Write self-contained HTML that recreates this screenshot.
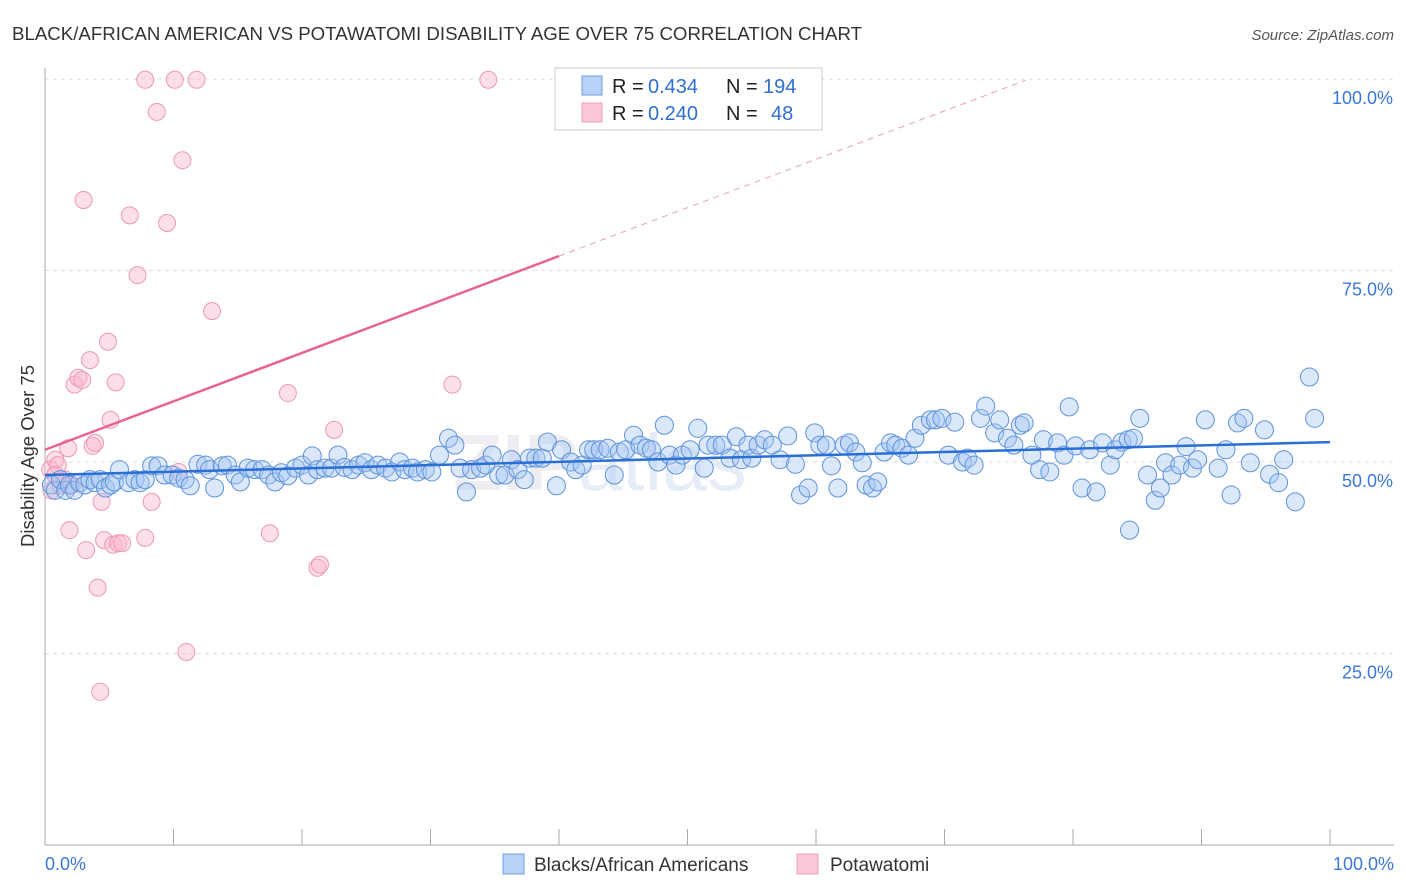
<!DOCTYPE html>
<html><head><meta charset="utf-8"><style>
body{margin:0;background:#fff;font-family:"Liberation Sans",sans-serif;}
svg{display:block}
</style></head><body>
<svg id="chart" width="1406" height="892">
<text x="12" y="40" font-size="18" fill="#333" textLength="850" lengthAdjust="spacingAndGlyphs">BLACK/AFRICAN AMERICAN VS POTAWATOMI DISABILITY AGE OVER 75 CORRELATION CHART</text>
<text x="1394" y="40" font-size="15" fill="#555" font-style="italic" text-anchor="end">Source: ZipAtlas.com</text>
<text x="34" y="456" font-size="18.5" fill="#333" text-anchor="middle" transform="rotate(-90 34 456)">Disability Age Over 75</text>
<g id="grid"></g>
<g id="axes"></g>
<text x="600" y="490" font-size="80" fill="#ededf2" font-weight="bold" text-anchor="middle">ZIP<tspan font-weight="normal" fill="#e6edf7">atlas</tspan></text>
<g id="pink"></g>
<g id="blue"></g>
<g id="lines"></g>
<g>
<rect x="555" y="68" width="267" height="62" fill="#fff" stroke="#ccc"/>
<rect x="582" y="76" width="20" height="19" fill="#b8d2f5" stroke="#6f9fe0"/>
<rect x="582" y="103" width="20" height="19" fill="#fcc8d8" stroke="#eba0b8"/>
<g font-size="20">
<text x="612" y="93" fill="#222">R =</text><text x="648" y="93" fill="#2f6fd0">0.434</text>
<text x="726" y="93" fill="#222">N =</text><text x="763" y="93" fill="#2f6fd0">194</text></g>
<g font-size="20">
<text x="612" y="120" fill="#222">R =</text><text x="648" y="120" fill="#2f6fd0">0.240</text>
<text x="726" y="120" fill="#222">N =</text><text x="771" y="120" fill="#2f6fd0">48</text></g>
</g>
<g>
<rect x="503" y="854" width="21" height="20" fill="#b8d2f5" stroke="#6f9fe0"/>
<text x="534" y="871" font-size="19" fill="#333">Blacks/African Americans</text>
<rect x="797" y="854" width="21" height="20" fill="#fcc8d8" stroke="#eba0b8"/>
<text x="830" y="871" font-size="19" fill="#333">Potawatomi</text>
</g>
</svg>
<script>
const yTicks=[100,75,50,25];
const yTickLabels=["100.0%","75.0%","50.0%","25.0%"];
const xTicks=[0,10,20,30,40,50,60,70,80,90,100];
const xEndLabels=["0.0%","100.0%"];
const blueX=[0.5,0.8,1.2,1.6,1.9,2.3,2.7,3.1,3.5,3.9,4.3,4.7,5.1,5.4,5.8,6.5,7.0,7.4,7.8,8.3,8.8,9.3,9.9,10.4,10.9,11.3,11.9,12.5,12.8,13.2,13.8,14.2,14.8,15.2,15.8,16.3,16.9,17.4,17.9,18.4,18.9,19.5,20.0,20.5,20.8,21.2,21.8,22.3,22.8,23.3,23.9,24.4,24.9,25.4,25.9,26.5,27.0,27.6,28.0,28.6,29.0,29.6,30.1,30.7,31.4,31.9,32.3,32.8,33.2,33.9,34.3,34.8,35.3,35.8,36.3,36.8,37.3,37.7,38.2,38.7,39.1,39.8,40.2,40.9,41.3,41.8,42.3,42.7,43.2,43.8,44.3,44.7,45.2,45.8,46.3,46.8,47.2,47.7,48.2,48.6,49.1,49.6,50.2,50.8,51.3,51.6,52.2,52.7,53.3,53.8,54.2,54.7,55.0,55.5,56.0,56.6,57.2,57.8,58.4,58.8,59.4,59.9,60.3,60.8,61.2,61.7,62.2,62.6,63.1,63.6,63.9,64.4,64.8,65.3,65.8,66.2,66.7,67.2,67.7,68.2,68.9,69.3,69.8,70.3,70.8,71.4,71.8,72.3,72.8,73.2,73.9,74.3,74.9,75.4,75.9,76.2,76.8,77.4,77.7,78.2,78.8,79.3,79.7,80.2,80.7,81.3,81.8,82.3,82.9,83.3,83.8,84.3,84.7,85.2,85.8,86.4,86.8,87.2,87.7,88.3,88.8,89.3,89.7,90.3,91.3,91.9,92.3,92.8,93.3,93.8,94.9,95.3,96.0,96.4,97.3,98.4,98.8,84.4];
const blueY=[47.0,46.3,47.7,46.3,47.0,46.3,47.3,47.0,47.7,47.3,47.7,46.6,47.0,47.4,49.0,47.3,47.7,47.3,47.7,49.5,49.5,48.3,48.3,47.9,47.7,46.9,49.7,49.6,49.0,46.6,49.5,49.6,48.3,47.4,49.2,49.0,49.0,48.3,47.4,48.6,48.2,49.2,49.6,48.3,50.8,49.0,49.2,49.2,50.9,49.3,49.0,49.6,49.9,49.0,49.6,49.2,48.7,50.0,49.0,49.2,48.7,49.0,48.7,50.9,53.1,52.2,49.2,46.1,49.0,49.2,49.6,50.9,48.3,48.3,50.3,49.0,47.7,50.5,50.5,50.5,52.6,46.9,51.6,50.0,49.0,49.6,51.6,51.6,51.6,51.8,48.3,51.3,51.6,53.5,52.2,51.8,51.6,50.0,54.8,50.9,49.6,50.9,51.6,54.4,49.2,52.2,52.2,52.2,50.5,53.3,50.3,52.2,50.5,52.2,52.9,52.2,50.3,53.4,49.7,45.7,46.6,53.8,52.2,52.2,49.5,46.6,52.2,52.5,51.3,49.9,47.0,46.6,47.4,51.3,52.5,52.2,51.8,50.9,53.1,54.8,55.5,55.5,55.7,50.9,55.2,50.0,50.5,49.6,55.7,57.3,53.8,55.5,53.1,52.2,54.8,55.1,50.9,49.0,52.9,48.7,52.5,50.9,57.2,52.1,46.6,51.6,46.1,52.5,49.6,51.6,52.6,52.9,53.1,55.7,48.3,45.0,46.6,49.9,48.3,49.6,52.0,49.2,50.3,55.5,49.2,51.6,45.7,55.1,55.7,49.9,54.2,48.4,47.3,50.3,44.8,61.1,55.7,41.1];
const pinkX=[0.4,0.5,0.8,1.0,1.2,1.6,1.8,1.9,2.1,2.3,2.6,2.9,3.0,3.2,3.5,3.7,3.9,4.1,4.3,4.4,4.6,4.9,5.1,5.3,5.5,5.7,6.0,6.6,7.2,7.8,7.8,8.3,8.7,9.5,10.1,10.4,10.7,11.0,11.8,13.0,17.5,18.9,21.2,21.4,22.5,31.7,34.5,0.8];
const pinkY=[49.0,46.3,50.3,49.6,47.0,47.7,51.8,41.1,47.0,60.1,61.0,60.7,84.2,38.5,63.3,52.1,52.5,33.6,20.0,44.8,39.8,65.7,55.5,39.2,60.4,39.4,39.4,82.2,74.4,99.9,40.1,44.8,95.7,81.2,99.9,48.7,89.4,25.2,99.9,69.7,40.7,59.0,36.2,36.6,54.2,60.1,99.9,48.3];
const blueTrend=[48.3,52.6];
const pinkIntercept=51.6, pinkSlope=0.632, pinkSolidEnd=40, pinkDashEnd=76.3;

const NS="http://www.w3.org/2000/svg";
const X0=45,X1=1330,Y0=845,Y100=79;
const sx=v=>X0+(X1-X0)*v/100;
const sy=v=>Y0-(Y0-Y100)*v/100;
function mk(tag,attrs,parent){const e=document.createElementNS(NS,tag);for(const k in attrs)e.setAttribute(k,attrs[k]);parent.appendChild(e);return e;}
const grid=document.getElementById('grid'),axes=document.getElementById('axes');
yTicks.forEach((t,i)=>{
 const l=mk('line',{x1:X0,x2:1394,y1:sy(t),y2:sy(t),stroke:'#ddd','stroke-dasharray':'4,4'},grid);
 
 
 const tx=mk('text',{x:1393,y:sy(t)+25,'font-size':18,fill:'#3b78d8','text-anchor':'end'},axes);
 tx.textContent=yTickLabels[i];
 
 
});
const ya=mk('line',{x1:X0,x2:X0,y1:68,y2:Y0,stroke:'#aaa'},axes);


const xa=mk('line',{x1:X0,x2:1394,y1:Y0,y2:Y0,stroke:'#aaa'},axes);


xTicks.forEach(t=>{
 const l=mk('line',{x1:sx(t),x2:sx(t),y1:829,y2:Y0,stroke:'#aaa'},axes);
 
 
});
[[0,'start',45],[100,'end',1394]].forEach((d,i)=>{
 const tx=mk('text',{x:d[2],y:870,'font-size':18,fill:'#3b78d8','text-anchor':d[1]},axes);
 tx.textContent=xEndLabels[i];
 
 
});
const pg=document.getElementById('pink'),bg=document.getElementById('blue');
pinkX.forEach((x,i)=>{
 const c=mk('circle',{cx:sx(x),cy:sy(pinkY[i]),r:8.5,fill:'rgba(250,185,205,0.45)',stroke:'#eb9ab4','stroke-width':1},pg);
 
 
});
blueX.forEach((x,i)=>{
 const c=mk('circle',{cx:sx(x),cy:sy(blueY[i]),r:9,fill:'rgba(165,198,242,0.4)',stroke:'#5e92da','stroke-width':1},bg);
 
 
});
const lg=document.getElementById('lines');
const bl=mk('line',{x1:sx(0),y1:sy(blueTrend[0]),x2:sx(100),y2:sy(blueTrend[1]),stroke:'#2a6fd6','stroke-width':2.5},lg);


const pl=mk('line',{x1:sx(0),y1:sy(pinkIntercept),x2:sx(pinkSolidEnd),y2:sy(pinkIntercept+pinkSlope*pinkSolidEnd),stroke:'#e8648f','stroke-width':2.5},lg);


const pd=mk('line',{x1:sx(pinkSolidEnd),y1:sy(pinkIntercept+pinkSlope*pinkSolidEnd),x2:sx(pinkDashEnd),y2:sy(pinkIntercept+pinkSlope*pinkDashEnd),stroke:'#e8a0b8','stroke-width':1,'stroke-dasharray':'6,5'},lg);


</script>
</body></html>
